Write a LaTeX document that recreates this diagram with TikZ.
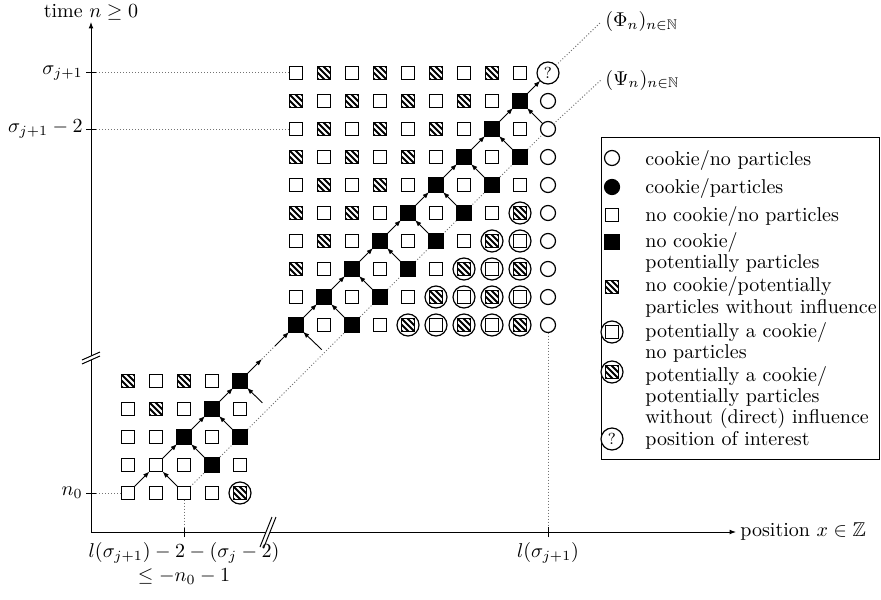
\documentclass[tikz,border=0pt]{standalone}
\usepackage{amssymb}
\usetikzlibrary{arrows.meta,backgrounds}

\newcommand\hatchin{%
  \begin{scope}
    \clip ([shift={(-3.25pt,-3.25pt)}]path picture bounding box.center) rectangle ++(6.5pt,6.5pt);
    \foreach \k in {-2,...,2}
      \draw[line width=0.9pt] ([shift={(\k*3pt-5pt,5pt)}]path picture bounding box.center) -- ++(10pt,-10pt);
  \end{scope}}
\newcommand\innersq{%
  \draw[line width=0.6pt] ([shift={(-3.25pt,-3.25pt)}]path picture bounding box.center) rectangle ++(6.5pt,6.5pt);}

\tikzset{
  cell/.style={inner sep=0pt, outer sep=0pt, line width=0.6pt},
  csq/.style={cell, draw, fill=white, minimum size=6.5pt},
  cbk/.style={cell, draw, fill=black, minimum size=7pt},
  chat/.style={csq, path picture={\hatchin}},
  ring/.style={cell, draw, fill=white, circle, minimum size=11pt},
  crw/.style={ring, path picture={\innersq}},
  crh/.style={ring, path picture={\hatchin\innersq}},
  ccir/.style={cell, draw, fill=white, circle, minimum size=7.5pt},
  cdot/.style={cell, draw, fill=black, circle, minimum size=7.5pt},
  cq/.style={ring, font=\footnotesize},
  arr/.style={line width=0.45pt, -{Latex[length=3.2pt,width=2.4pt]}},
  dots/.style={densely dotted, line width=0.5pt, black!55},
  lg/.style={anchor=base west, inner sep=0pt},
  axis/.style={line width=0.5pt},
}

\begin{document}
\begin{tikzpicture}[x=0.5pt,y=-0.5pt]
\useasboundingbox (0,0) rectangle (881,599);

% ---------- lattice ----------
\begin{scope}[shift={(128,493)}, x=14pt, y=14pt]
  % lower block
  \foreach \cc/\rr/\st in {0/0/csq,1/0/csq,2/0/csq,3/0/csq,4/0/crh,
      0/1/csq,1/1/csq,2/1/csq,3/1/cbk,4/1/csq,
      0/2/csq,1/2/csq,2/2/cbk,3/2/csq,4/2/cbk,
      0/3/csq,1/3/chat,2/3/csq,3/3/cbk,4/3/csq,
      0/4/chat,1/4/csq,2/4/chat,3/4/csq,4/4/cbk}
    \node[\st] (L\cc-\rr) at (\cc,\rr) {};
  % upper block
  \foreach \cc in {0,...,9}{\foreach \rr in {0,...,9}{%
    \pgfmathtruncatemacro\ss{mod(\cc+\rr,2)}%
    \pgfmathtruncatemacro\dd{\cc-\rr}%
    \def\tx{}%
    \ifnum\cc=9
      \ifnum\rr=9 \def\st{cq}\def\tx{?}\else\def\st{ccir}\fi
    \else
      \ifnum\ss=0
        \ifnum\dd<0 \def\st{chat}\else
          \ifnum\dd<3 \def\st{cbk}\else\def\st{crh}\fi
        \fi
      \else
        \ifnum\dd>3 \def\st{crw}\else\def\st{csq}\fi
      \fi
    \fi
    \node[\st] (U\cc-\rr) at (\cc+6,\rr+6) {\tx};
  }}
  \coordinate (fl) at (4.8,3.22);
  \coordinate (m1) at (4.78,4.78);
  \coordinate (m2) at (5.25,5.25);
  \coordinate (fu) at (6.92,5.12);
\end{scope}

% ---------- arrows ----------
\foreach \a [evaluate=\a as \b using int(\a+1)] in {0,...,3}
  \draw[arr] (L\a-\a) -- (L\b-\b);
\draw[arr] (L2-0) -- (L1-1);
\draw[arr] (L3-1) -- (L2-2);
\draw[arr] (L4-2) -- (L3-3);
\draw[arr] (fl) -- (L4-4);
\draw[arr] (L4-4) -- (m1);
\draw[dots] (m1) -- (m2);
\draw[arr] (m2) -- (U0-0);
\draw[arr] (fu) -- (U0-0);
\foreach \a [evaluate=\a as \b using int(\a+1)] in {0,...,8}
  \draw[arr] (U\a-\a) -- (U\b-\b);
\foreach \a [evaluate=\a as \b using int(\a+1), evaluate=\a as \e using int(\a+2)] in {0,...,7}
  \draw[arr] (U\e-\a) -- (U\b-\b);

% ---------- Psi line ----------
\begin{scope}[on background layer]
  \draw[dots] (L2-0.center) -- (U9-7.center);
\end{scope}
\node[anchor=west, inner sep=2pt] (phi) at (601,22) {$(\Phi_n)_{n\in\mathbb{N}}$};
\node[anchor=west, inner sep=2pt] (psi) at (601,80) {$(\Psi_n)_{n\in\mathbb{N}}$};
\draw[dots] (U9-9) -- (phi.west);
\draw[dots] (U9-7) -- (psi.west);

% ---------- axes ----------
\coordinate (O) at (91,532);
\coordinate (ytop) at (91,22);
\coordinate (xend) at (736,532);
\draw[axis, -{Latex[length=3.2pt,width=2.4pt]}] (O) -- (ytop);
\draw[axis, -{Latex[length=3.2pt,width=2.4pt]}] (O) -- (xend);
\node[anchor=base] (ylab) at (91,18) {time $n\geq 0$};
\node[anchor=west, inner sep=2pt] (xlab) at (xend) {position $x\in\mathbb{Z}$};

% axis breaks
\fill[white] (260,547) -- (272,517) -- (276,517) -- (264,547) -- cycle;
\draw[axis] (260,547) -- (272,517) (264,547) -- (276,517);
\fill[white] (82,364) -- (100,356) -- (100,352) -- (82,360) -- cycle;
\draw[axis] (82,364) -- (100,356) (82,360) -- (100,352);

% y ticks
\coordinate (ty1) at (O |- U0-9);
\coordinate (ty2) at (O |- U0-7);
\coordinate (ty3) at (O |- L0-0);
\foreach \t in {ty1,ty2,ty3}
  \draw[axis] ([xshift=-2.5pt]\t) -- ([xshift=2.5pt]\t);
\node[anchor=east, inner sep=1.5pt] (lsa) at ([xshift=-2.5pt]ty1) {$\sigma_{j+1}$};
\node[anchor=east, inner sep=1.5pt] (lsb) at ([xshift=-2.5pt]ty2) {$\sigma_{j+1}-2$};
\node[anchor=east, inner sep=1.5pt] (lsc) at ([xshift=-2.5pt]ty3) {$n_0$};
\draw[dots] ([xshift=2.5pt]ty1) -- (U0-9);
\draw[dots] ([xshift=2.5pt]ty2) -- (U0-7);
\draw[dots] ([xshift=2.5pt]ty3) -- (L0-0);

% x ticks
\coordinate (tx1) at (L2-0 |- O);
\coordinate (tx2) at (U9-0 |- O);
\foreach \t in {tx1,tx2}
  \draw[axis] ([yshift=-2.5pt]\t) -- ([yshift=2.5pt]\t);
\draw[dots] (L2-0) -- ([yshift=2.5pt]tx1);
\draw[dots] (U9-0) -- ([yshift=2.5pt]tx2);
\node[anchor=north, align=center, inner sep=2.5pt] (lxa) at ([yshift=-2.5pt]tx1)
  {$l(\sigma_{j+1})-2-(\sigma_j-2)$\\$\leq -n_0-1$};
\node[anchor=north, inner sep=2.5pt] (lxb) at ([yshift=-2.5pt]tx2) {$l(\sigma_{j+1})$};

% ---------- legend ----------
\draw[line width=0.45pt] (601,137) rectangle (879.5,459);
\node[ccir] (s1) at (612,158) {};
\node[cdot] (s2) at (612,187) {};
\node[csq]  (s3) at (612,215) {};
\node[cbk]  (s4) at (612,242) {};
\node[chat] (s5) at (612,287) {};
\node[crw]  (s6) at (612,332) {};
\node[crh]  (s7) at (612,372) {};
\node[cq]   (s8) at (612,439) {?};
\node[lg] (g1)  at (645,165) {cookie/no particles};
\node[lg] (g2)  at (645,193) {cookie/particles};
\node[lg] (g3)  at (645,221.5) {no cookie/no particles};
\node[lg] (g4a) at (645,247) {no cookie/};
\node[lg] (g4b) at (645,268) {potentially particles};
\node[lg] (g5a) at (645,291.5) {no cookie/potentially};
\node[lg] (g5b) at (645,313) {particles without influence};
\node[lg] (g6a) at (645,337.5) {potentially a cookie/};
\node[lg] (g6b) at (645,358) {no particles};
\node[lg] (g7a) at (645,381.5) {potentially a cookie/};
\node[lg] (g7b) at (645,402) {potentially particles};
\node[lg] (g7c) at (645,423) {without (direct) influence};
\node[lg] (g8)  at (645,445) {position of interest};
\end{tikzpicture}
\end{document}
